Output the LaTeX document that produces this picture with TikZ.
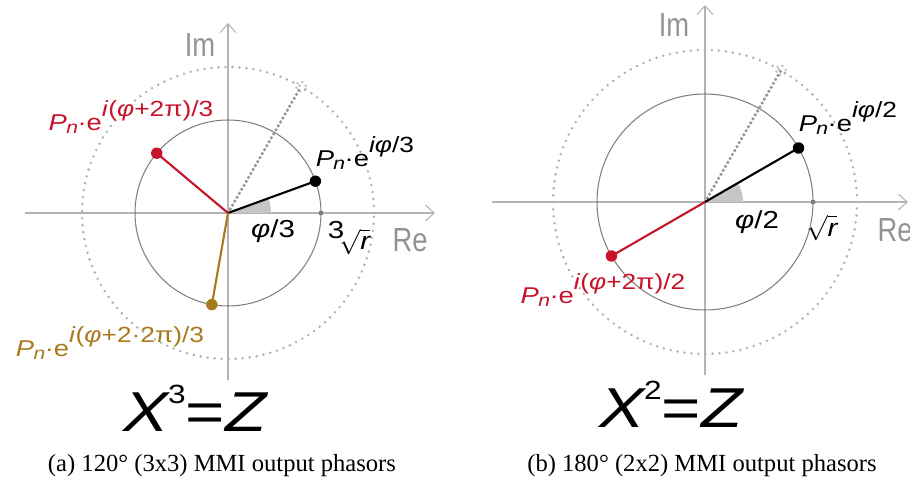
\documentclass[tikz,border=0pt]{standalone}
\usepackage{fontspec}
\setmainfont{Liberation Serif}
\newfontfamily\labfont[FakeStretch=1.2]{Liberation Sans}
\newfontfamily\axfont[FakeStretch=0.82]{Liberation Sans}
\usetikzlibrary{arrows.meta}
\definecolor{axgray}{HTML}{B4B4B4}
\definecolor{ringgray}{HTML}{7F7F7F}
\definecolor{dotgray}{HTML}{B2B2B2}
\definecolor{phred}{HTML}{C8142A}
\definecolor{phgold}{HTML}{A87A1C}
\newcommand{\phexp}[1]{\textit{P}\kern-0.03em\raisebox{-0.25ex}{\fontsize{10}{10}\selectfont\textit{n}}\kern-0.02em·e\raisebox{0.62em}{\fontsize{12.5}{12.5}\selectfont #1}}

\begin{document}
\begin{tikzpicture}[x=0.02cm,y=0.02cm,
  axisline/.style={axgray,line width=0.6pt,->,>={Straight Barb[length=5pt,width=9pt]}},
  unitring/.style={ringgray,line width=0.6pt},
  outring/.style={dotgray,line width=1.6pt,line cap=round,dash pattern=on 0pt off 4pt},
  guide/.style={dotgray!85!black,line width=2pt,line cap=round,dash pattern=on 0pt off 2.6pt},
  phasorline/.style={line width=1.2pt},
  tipdot/.style={circle,fill,inner sep=0pt,minimum size=6.5pt},
  axlabel/.style={text=gray!85,font=\axfont\fontsize{19}{19}\selectfont,inner sep=0pt},
  phlabel/.style={font=\labfont\fontsize{13}{13}\selectfont,inner sep=0pt},
  eqlabel/.style={font=\labfont\fontsize{32}{32}\selectfont,inner sep=0pt},
  caption/.style={font=\fontsize{14}{14}\selectfont,inner sep=0pt}]
\useasboundingbox (0,0) rectangle (910,487);

% (a) three roots of the cube
\begin{scope}[shift={(228,274)}]
  \coordinate (oa) at (0,0);
  \coordinate (rea0) at (-203,0); \coordinate (rea1) at (207,0);
  \coordinate (ima0) at (0,-167); \coordinate (ima1) at (0,190);
  \draw[axisline] (rea0) -- (rea1);
  \draw[axisline] (ima0) -- (ima1);
  \node[axlabel] (ima) at (-28,168) {Im};
  \node[axlabel] (rea) at (182,-27) {Re};
  \draw[outring] (oa) circle (146);
  \draw[unitring] (oa) circle (93);
  \fill[gray!45] (oa) -- (0:43) arc (0:20:43) -- cycle;
  \fill[ringgray] (0:93) circle (2.5);
  \coordinate (za) at (60:146);
  \draw[guide] (oa) -- (za);
  \draw[dotgray,line width=1pt,dotted] (za) circle (5);
  % the three phasors
  \foreach \ang/\col/\nm in {20/black/pa1,140/phred/pa2,260/phgold/pa3}{
    \node[tipdot,text=\col,fill=\col] (\nm) at (\ang:93) {};
    \draw[phasorline,\col] (oa) -- (\nm.center);}
  \node[phlabel] (la1) at (137,60) {\phexp{\textit{iφ}/3}};
  \node[phlabel,text=phred] (la2) at (-97,96) {\phexp{\textit{i}(\textit{φ}+2π)/3}};
  \node[phlabel,text=phgold] (la3) at (-118,-130) {\phexp{\textit{i}(\textit{φ}+2·2π)/3}};
  \node[phlabel,font=\labfont\fontsize{14}{14}\selectfont] (anga) at (45,-18) {\textit{φ}/3};
  \node[phlabel,font=\labfont\fontsize{14}{14}\selectfont] (rada) at (121,-25) {\raisebox{0.9ex}{3}\kern-0.2em$\sqrt{\textit{r}}$};
  \node[eqlabel] (eqa) at (-32,-195) {\textit{X}\kern-0.05em\raisebox{0.5em}{\fontsize{15}{15}\selectfont 3}=\textit{Z}};
\end{scope}
\node[caption] (capa) at (222,21) {(a) 120° (3x3) MMI output phasors};

% (b) two roots of the square
\begin{scope}[shift={(705,285)}]
  \coordinate (ob) at (0,0);
  \coordinate (reb0) at (-213,0); \coordinate (reb1) at (203,0);
  \coordinate (imb0) at (0,-173); \coordinate (imb1) at (0,197);
  \draw[axisline] (reb0) -- (reb1);
  \draw[axisline] (imb0) -- (imb1);
  \node[axlabel] (imb) at (-31,177) {Im};
  \node[axlabel] (reb) at (190,-28) {Re};
  \draw[outring] (ob) circle (152);
  \draw[unitring] (ob) circle (108);
  \fill[gray!45] (ob) -- (0:38) arc (0:30:38) -- cycle;
  \fill[ringgray] (0:108) circle (2.5);
  \coordinate (zb) at (60:152);
  \draw[guide] (ob) -- (zb);
  \draw[dotgray,line width=1pt,dotted] (zb) circle (5);
  % the two phasors
  \foreach \ang/\col/\nm in {30/black/pb1,210/phred/pb2}{
    \node[tipdot,text=\col,fill=\col] (\nm) at (\ang:108) {};
    \draw[phasorline,\col] (ob) -- (\nm.center);}
  \node[phlabel] (lb1) at (143,84) {\phexp{\textit{iφ}/2}};
  \node[phlabel,text=phred] (lb2) at (-102,-88) {\phexp{\textit{i}(\textit{φ}+2π)/2}};
  \node[phlabel,font=\labfont\fontsize{14}{14}\selectfont] (angb) at (52,-20) {\textit{φ}/2};
  \node[phlabel,font=\labfont\fontsize{14}{14}\selectfont] (radb) at (117,-26) {$\sqrt{\textit{r}}$};
  \node[eqlabel] (eqb) at (-33,-202) {\textit{X}\kern-0.05em\raisebox{0.5em}{\fontsize{15}{15}\selectfont 2}=\textit{Z}};
\end{scope}
\node[caption] (capb) at (702,21) {(b) 180° (2x2) MMI output phasors};
\end{tikzpicture}
\end{document}
